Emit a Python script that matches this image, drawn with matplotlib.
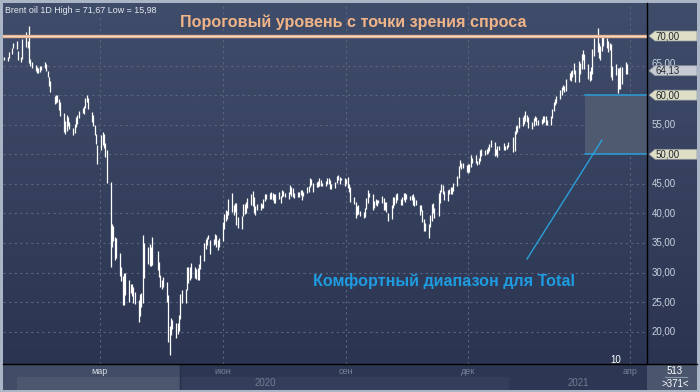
import numpy as np
import pandas as pd
import matplotlib
matplotlib.use("Agg")
import matplotlib.pyplot as plt
import matplotlib.dates as mdates
from matplotlib.patches import Rectangle, Polygon

W, H = 700, 392

# Brent oil daily bars (high / low), Dec 19 2019 .. Mar 30 2021
high = [
    # Dec 2019
    66.6, 66.5, 66.5, 67.3, 68.0, 68.9, 69.1, 67.4,
    # Jan 2020
    66.4, 69.5, 70.7, 69.2, 71.67, 66.1, 65.6, 65.1, 64.8, 64.6, 65.0, 65.0,
    65.6, 65.3, 64.1, 63.0, 62.4, 59.9, 60.0, 60.0, 59.4, 58.9,
    # Feb 2020
    56.9, 55.6, 56.6, 56.3, 55.5, 54.5, 55.2, 56.3, 56.7, 57.4,
    57.9, 58.1, 59.5, 60.0, 59.5, 57.2, 56.7, 55.0, 53.5, 51.5,
    # Mar 2020
    53.2, 53.8, 53.4, 51.9, 50.7, 45.3, 38.2, 37.9, 36.0, 35.8, 33.3,
    30.9, 29.4, 30.0, 30.0, 28.7, 28.1, 28.0, 27.6, 26.7, 25.3, 26.4,
    # Apr 2020
    26.6, 36.3, 35.0, 34.4, 34.9, 34.3, 36.0, 33.6, 31.8, 29.6, 28.7,
    29.3, 28.4, 26.2, 21.0, 22.3, 22.0, 21.5, 21.4, 22.8, 26.4,
    # May 2020
    27.0, 27.2, 31.0, 31.0, 30.9, 31.6, 30.9, 30.6, 30.8, 31.5, 32.9,
    35.0, 35.6, 36.0, 36.4, 35.5, 35.7, 36.5, 36.3, 35.5, 35.9,
    # Jun 2020
    38.5, 39.9, 40.5, 40.4, 42.5, 43.4, 41.5, 41.8, 41.8, 39.4, 39.6,
    41.6, 41.6, 41.9, 42.6, 43.2, 43.8, 42.7, 41.2, 41.6, 41.7, 41.6,
    # Jul 2020
    42.5, 43.3, 43.2, 43.5, 43.6, 43.5, 43.3, 43.3, 43.6, 42.9, 43.9, 43.8,
    43.4, 43.6, 44.8, 44.4, 44.3, 43.5, 43.6, 43.7, 44.0, 43.9, 43.6,
    # Aug 2020
    44.4, 44.6, 46.0, 45.8, 45.2, 45.3, 45.5, 46.0, 45.7, 45.2, 45.4,
    46.0, 46.0, 45.6, 45.0, 45.3, 46.3, 46.5, 46.1, 46.0, 46.0,
    # Sep 2020
    45.9, 46.2, 44.9, 44.4, 42.8, 42.0, 41.2, 41.4, 40.4, 40.2, 41.0,
    42.6, 43.9, 43.5, 43.2, 42.1, 42.4, 42.2, 42.3, 42.9, 42.6, 41.9,
    # Oct 2020
    41.9, 40.0, 41.5, 42.7, 42.8, 43.3, 43.4, 42.5, 42.7, 43.5, 43.4,
    43.2, 43.0, 43.1, 43.2, 42.7, 42.3, 41.5, 41.5, 40.6, 39.0, 38.4,
    # Nov 2020
    38.2, 39.7, 41.6, 41.8, 41.0, 43.4, 44.0, 45.0, 44.8, 43.8, 44.0,
    44.1, 44.5, 44.5, 45.1, 46.4, 48.0, 49.0, 48.5, 48.6, 48.2,
    # Dec 2020
    48.4, 48.3, 49.9, 49.4, 49.9, 48.9, 49.4, 50.7, 50.9, 50.7, 50.9,
    51.3, 51.7, 52.4, 52.0, 50.9, 51.4, 51.4, 51.9, 51.4, 51.6, 52.0,
    # Jan 2021
    53.0, 53.9, 54.7, 54.9, 56.3, 56.3, 56.7, 57.4, 56.6, 56.3,
    55.5, 56.2, 56.4, 56.3, 55.8, 56.0, 56.4, 56.4, 56.4, 55.8,
    # Feb 2021
    56.5, 57.6, 58.8, 59.4, 59.8, 60.8, 61.3, 61.7, 61.6, 62.8,
    63.8, 64.0, 64.2, 65.5, 64.2, 65.7, 65.5, 67.0, 67.7, 66.9,
    # Mar 2021
    65.3, 64.1, 64.8, 67.8, 69.6, 71.4, 68.8, 68.3, 69.8, 69.9, 69.6,
    69.2, 68.8, 68.6, 64.9, 65.2, 64.6, 64.6, 64.7, 64.8, 65.6, 65.3,
]
low = [
    # Dec 2019
    65.7, 65.9, 65.8, 66.2, 67.0, 67.9, 67.8, 65.9,
    # Jan 2020
    65.6, 66.1, 68.2, 68.0, 65.4, 64.9, 64.6, 64.0, 63.8, 63.7, 63.9, 64.3,
    64.6, 64.1, 63.0, 61.6, 60.5, 58.5, 58.7, 58.8, 57.5, 56.5,
    # Feb 2020
    53.8, 53.5, 54.0, 54.8, 54.2, 53.3, 53.6, 54.6, 55.2, 56.2,
    57.0, 56.8, 57.8, 58.8, 57.6, 55.5, 54.7, 53.2, 51.7, 48.4,
    # Mar 2020
    50.7, 51.5, 51.0, 49.6, 45.2, 31.0, 34.4, 35.4, 32.2, 32.5, 29.5,
    28.5, 24.5, 24.5, 26.2, 25.0, 26.6, 26.0, 24.8, 24.6, 21.7, 22.6,
    # Apr 2020
    24.1, 24.8, 29.0, 31.5, 31.1, 31.1, 31.3, 30.5, 29.2, 27.6, 27.2,
    27.6, 25.0, 18.2, 15.98, 19.4, 20.5, 19.0, 19.6, 20.1, 22.2,
    # May 2020
    24.8, 24.8, 27.0, 28.2, 28.8, 29.1, 29.0, 28.9, 28.7, 28.8, 30.6,
    32.0, 34.0, 34.6, 35.6, 33.2, 34.6, 34.8, 34.4, 33.8, 34.3,
    # Jun 2020
    35.3, 37.3, 38.8, 39.0, 39.8, 40.2, 39.8, 40.2, 38.1, 37.6, 37.3,
    39.6, 39.9, 40.0, 41.0, 41.4, 41.2, 40.1, 39.8, 40.5, 40.6, 40.9,
    # Jul 2020
    40.9, 42.1, 42.4, 42.4, 42.4, 42.3, 41.8, 41.8, 42.4, 41.7, 42.8, 43.0,
    42.8, 42.5, 43.2, 43.0, 42.8, 42.6, 42.8, 42.8, 43.1, 42.3, 42.9,
    # Aug 2020
    43.4, 43.6, 44.5, 44.8, 43.7, 44.4, 44.4, 44.6, 44.7, 44.6, 44.6,
    45.0, 45.0, 44.2, 44.1, 44.3, 45.1, 45.6, 45.0, 45.6, 44.7,
    # Sep 2020
    45.0, 44.3, 43.6, 42.0, 41.6, 39.2, 39.7, 39.9, 39.5, 39.3, 39.4,
    40.7, 41.7, 42.7, 40.6, 40.9, 41.4, 41.3, 41.7, 41.8, 40.6, 40.6,
    # Oct 2020
    40.2, 38.8, 39.0, 40.9, 41.4, 41.8, 42.3, 41.4, 41.4, 42.3, 41.9,
    42.5, 42.3, 42.2, 41.5, 41.3, 41.4, 39.8, 40.4, 38.6, 37.0, 37.0,
    # Nov 2020
    35.9, 37.7, 38.7, 40.0, 39.3, 39.5, 41.8, 43.6, 43.3, 42.3, 42.1,
    43.2, 43.2, 43.2, 43.8, 44.7, 46.0, 47.8, 47.5, 47.7, 47.0,
    # Dec 2020
    46.9, 47.0, 47.8, 48.6, 48.5, 48.2, 48.3, 48.8, 49.7, 49.9, 50.0,
    50.2, 50.5, 51.3, 49.7, 49.8, 49.6, 50.8, 50.8, 50.7, 50.9, 51.3,
    # Jan 2021
    50.4, 50.6, 53.4, 53.8, 54.4, 54.8, 55.2, 55.7, 55.4, 54.5,
    54.3, 54.8, 55.6, 54.9, 55.0, 55.2, 55.3, 55.5, 54.9, 55.0,
    # Feb 2021
    54.9, 56.2, 57.3, 58.3, 58.7, 59.4, 60.1, 60.9, 60.5, 60.7,
    62.6, 62.4, 63.1, 63.6, 62.3, 62.3, 63.6, 64.4, 65.9, 64.4,
    # Mar 2021
    62.8, 62.4, 62.5, 63.6, 66.7, 67.3, 66.3, 65.9, 67.4, 68.3, 67.9,
    67.3, 67.6, 63.0, 62.6, 63.4, 60.3, 61.0, 61.0, 61.8, 63.6, 63.6,
]
holidays = ["2019-12-25", "2020-01-01", "2020-04-10", "2020-12-25", "2021-01-01"]

last_price = 64.13
tagged_levels = [70, 60, 50]
y_ticks = [20, 25, 30, 35, 40, 45, 50, 55, 60, 65, 70]
month_labels = ["мар", "июн", "сен", "дек", "апр"]
month_dates = ["2020-03-01", "2020-06-01", "2020-09-01", "2020-12-01", "2021-04-01"]
year_labels = ["2020", "2021"]

days = pd.bdate_range("2019-12-19", "2021-03-30")
days = days[~days.isin(pd.to_datetime(holidays))]
assert len(days) == len(high) == len(low), (len(days), len(high), len(low))
xd = mdates.date2num(days.to_pydatetime())

# pixel <-> data helpers (layout only)
MAR1 = mdates.date2num(pd.Timestamp("2020-03-01").to_pydatetime())
PX_PER_DAY = 1.338
PX_PER_UNIT = 5.914


def xpx(x):
    return MAR1 + (x - 100) / PX_PER_DAY


def ypx(y):
    return 70 - (y - 36) / PX_PER_UNIT


def rect(x0, y0, x1, y1):
    return [x0 / W, 1 - y1 / H, (x1 - x0) / W, (y1 - y0) / H]


def gradient(ax, extent):
    g = np.linspace(0, 1, 256).reshape(-1, 1)
    top = np.array([0x40, 0x4d, 0x6a]) / 255
    bot = np.array([0x2b, 0x35, 0x52]) / 255
    img = top + (bot - top) * g[..., None]
    ax.imshow(img, extent=extent, aspect="auto", zorder=0, origin="upper")


plt.rcParams["font.family"] = ["Liberation Sans", "DejaVu Sans"]
fig = plt.figure(figsize=(W / 100, H / 100), dpi=100)
fig.patch.set_facecolor("#aab5c6")

# main chart
ax = fig.add_axes(rect(3, 3, 647, 364))
x0, x1 = xpx(3), xpx(647)
y0, y1 = ypx(364), ypx(3)
gradient(ax, [x0, x1, y0, y1])
ax.set_xlim(x0, x1)
ax.set_ylim(y0, y1)
ax.axis("off")

for v in y_ticks:
    ax.axhline(v, color="#5a6680", lw=0.8, ls=(0, (2, 3)), zorder=1)
for d in month_dates:
    ax.axvline(mdates.date2num(pd.Timestamp(d).to_pydatetime()),
               color="#5a6680", lw=0.8, ls=(0, (2, 3)), zorder=1)

ax.vlines(xd, low, high, color="white", lw=0.9, zorder=3)

# comfort zone
ax.add_patch(Rectangle((xpx(585), 50), x1 - xpx(585), 10,
                       facecolor="#4f5a70", edgecolor="none", zorder=2))
for v in (50, 60):
    ax.plot([xpx(585), x1], [v, v], color="#2a9fd9", lw=1.1, zorder=4)
ax.plot([xpx(527), xpx(602)], [ypx(259), ypx(140)], color="#2a9fd9", lw=1.0, zorder=4)

# demand threshold
ax.axhline(70, color="#e6b596", lw=2.4, zorder=4)
ax.axhline(70, color="#f7d6bf", lw=0.7, zorder=4)

ax.text(xpx(353), ypx(27), "Пороговый уровень с точки зрения спроса",
        color="#f0b489", fontsize=11.6, fontweight="bold", ha="center",
        va="baseline", zorder=5)
ax.text(xpx(444), ypx(286), "Комфортный диапазон для Total",
        color="#1f9be0", fontsize=11.6, fontweight="bold", ha="center",
        va="baseline", zorder=5)
ax.text(xpx(5), ypx(13), "Brent oil 1D High = 71,67 Low = 15,98",
        color="#e6ebf2", fontsize=6.4, ha="left", va="baseline", zorder=5)
ax.text(xpx(616), ypx(363), "10", color="white", fontsize=7,
        ha="center", va="baseline", zorder=5)

# price scale
axr = fig.add_axes(rect(647, 3, 697, 364))
gradient(axr, [0, 50, y0, y1])
axr.set_xlim(0, 50)
axr.set_ylim(y0, y1)
axr.axis("off")
for v in y_ticks:
    if v in tagged_levels:
        continue
    # 65,00 sits partly hidden behind the last-price tag, as in the source
    axr.text(5, v + (0.35 if v == 65 else 0), f"{v},00", color="#c9d1dd",
             fontsize=7, ha="left", va="center", zorder=2)

h = 5 / PX_PER_UNIT


def tag(v, text, color):
    axr.add_patch(Polygon([(2, v), (8, v + h), (50, v + h), (50, v - h), (8, v - h)],
                          closed=True, facecolor=color, edgecolor="#8e949c",
                          lw=0.5, zorder=3))
    axr.text(8.5, v, text, color="#23272e", fontsize=7, ha="left",
             va="center", zorder=4)


for v in tagged_levels:
    tag(v, f"{v},00", "#dedfc6")
tag(last_price, f"{last_price:.2f}".replace(".", ","), "#c6cad3")

# time navigator
axn = fig.add_axes(rect(3, 364, 647, 390))
axn.set_xlim(3, 647)
axn.set_ylim(390, 364)
axn.axis("off")
axn.add_patch(Rectangle((3, 364), 644, 26, facecolor="#2d3753", zorder=0))
axn.add_patch(Rectangle((17, 377), 492, 13, facecolor="#333e5a", zorder=1))
axn.add_patch(Rectangle((3, 364), 177, 26, facecolor="#414d66", zorder=2))
axn.add_patch(Rectangle((17, 377), 163, 13, facecolor="#4b576f", zorder=3))
axn.plot([180, 180], [364, 390], color="#25304a", lw=1, zorder=4)

mar1_px = 100
for i, (lab, d) in enumerate(zip(month_labels, month_dates)):
    dd = (pd.Timestamp(d) - pd.Timestamp("2020-03-01")).days
    xp = mar1_px + dd * PX_PER_DAY
    axn.text(xp, 372, lab, color="#d8dee8" if i == 0 else "#76839a",
             fontsize=6.5, ha="center", va="center", zorder=5)
axn.text(265, 383, year_labels[0], color="#6f7c94", fontsize=7,
         ha="center", va="center", zorder=5)
axn.text(578, 383, year_labels[1], color="#6f7c94", fontsize=7,
         ha="center", va="center", zorder=5)

# corner box
axc = fig.add_axes(rect(647, 364, 697, 390))
axc.set_xlim(647, 697)
axc.set_ylim(390, 364)
axc.axis("off")
axc.add_patch(Rectangle((647, 364), 50, 26, facecolor="#4a566d", zorder=0))
axc.plot([665, 687], [377, 377], color="#8a96aa", lw=0.8, zorder=1)
axc.text(675, 370.5, "513", color="white", fontsize=7, ha="center", va="center")
axc.text(675, 384, ">371<", color="white", fontsize=7, ha="center", va="center")

# separators
fig.add_artist(plt.Line2D([647 / W, 647 / W], [1 - 3 / H, 1 - 364 / H],
                          color="black", lw=1.0))
fig.add_artist(plt.Line2D([3 / W, 697 / W], [1 - 364 / H, 1 - 364 / H],
                          color="black", lw=1.0))

fig.savefig("out.png", dpi=100, facecolor=fig.get_facecolor())
